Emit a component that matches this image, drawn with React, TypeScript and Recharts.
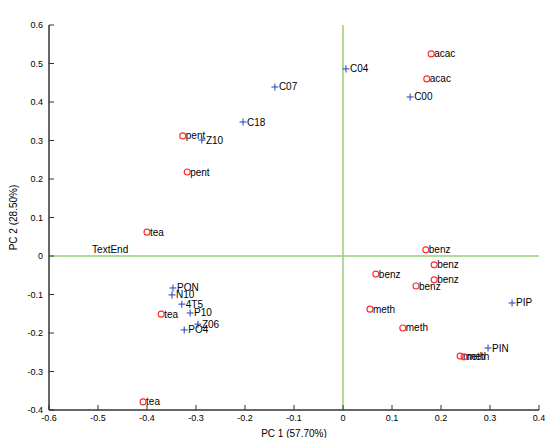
import React from 'react';
import { ScatterChart, Scatter, XAxis, YAxis, ReferenceLine, Label } from 'recharts';

// PCA biplot: sample scores (o) and variable loadings (+)
const scoreNames = ['acac', 'acac', 'pent', 'pent', 'tea', 'tea', 'tea', 'benz', 'benz', 'benz', 'benz', 'benz', 'meth', 'meth', 'meth', 'meth'];
const scoreX = [0.180, 0.171, -0.327, -0.318, -0.400, -0.371, -0.408, 0.169, 0.186, 0.186, 0.149, 0.067, 0.055, 0.122, 0.239, 0.247];
const scoreY = [0.525, 0.460, 0.312, 0.218, 0.062, -0.151, -0.379, 0.016, -0.023, -0.062, -0.078, -0.047, -0.138, -0.187, -0.260, -0.262];

const loadNames = ['C04', 'C00', 'C07', 'C18', 'Z10', 'PON', 'N10', '4T5', 'P10', 'Z06', 'PO4', 'PIP', 'PIN'];
const loadX = [0.006, 0.137, -0.139, -0.204, -0.288, -0.347, -0.349, -0.329, -0.312, -0.296, -0.324, 0.345, 0.296];
const loadY = [0.486, 0.413, 0.439, 0.348, 0.301, -0.083, -0.101, -0.125, -0.148, -0.177, -0.192, -0.122, -0.239];

const noteNames = ['TextEnd'];
const noteX = [-0.512];
const noteY = [0.016];

const xTicks = [-0.6, -0.5, -0.4, -0.3, -0.2, -0.1, 0, 0.1, 0.2, 0.3, 0.4];
const yTicks = [-0.4, -0.3, -0.2, -0.1, 0, 0.1, 0.2, 0.3, 0.4, 0.5, 0.6];

const zip = (names: string[], xs: number[], ys: number[]) =>
  names.map((name, i) => ({ name, x: xs[i], y: ys[i] }));

const scores = zip(scoreNames, scoreX, scoreY);
const loads = zip(loadNames, loadX, loadY);
const notes = zip(noteNames, noteX, noteY);

const FONT = '"Liberation Sans", Arial, sans-serif';
const AXIS = '#333333';
const GREEN = '#93d277';
const RED = '#ff2a2a';
const BLUE = '#2f4fc4';

const fmt = (v: number) => (v === 0 ? '0' : String(Number(v.toFixed(1))));

const ScoreMark = (props: any) => {
  const { cx, cy, payload } = props;
  return (
    <g>
      <circle cx={cx} cy={cy} r={3} fill="none" stroke={RED} strokeWidth={1.1} />
      <text x={cx + 3} y={cy} dy="0.35em" fontSize={10} fontFamily={FONT} fill="#000">
        {payload.name}
      </text>
    </g>
  );
};

const LoadMark = (props: any) => {
  const { cx, cy, payload } = props;
  return (
    <g>
      <line x1={cx - 3.5} x2={cx + 3.5} y1={cy} y2={cy} stroke={BLUE} strokeWidth={1.1} />
      <line x1={cx} x2={cx} y1={cy - 3.5} y2={cy + 3.5} stroke={BLUE} strokeWidth={1.1} />
      <text x={cx + 4} y={cy} dy="0.35em" fontSize={10} fontFamily={FONT} fill="#000">
        {payload.name}
      </text>
    </g>
  );
};

const NoteMark = (props: any) => {
  const { cx, cy, payload } = props;
  return (
    <text x={cx} y={cy} dy="0.35em" fontSize={10} fontFamily={FONT} fill="#000">
      {payload.name}
    </text>
  );
};

const YTitle = (props: any) => {
  const { viewBox } = props;
  const x = 13;
  const y = viewBox.y + viewBox.height / 2;
  return (
    <text x={x} y={y} transform={`rotate(-90 ${x} ${y})`} textAnchor="middle" dy="0.35em" fontSize={10} fontFamily={FONT} fill="#000">
      PC 2 (28.50%)
    </text>
  );
};

const tickStyle = { fontSize: 9, fontFamily: FONT, fill: '#000' };

export default function App() {
  return (
    <div style={{ position: 'absolute', left: 0, top: 0, width: 545, height: 438, background: '#fff' }}>
      <ScatterChart width={545} height={438} margin={{ top: 25, right: 6, bottom: 0, left: 19 }}>
        <XAxis
          xAxisId="b"
          type="number"
          dataKey="x"
          domain={[-0.6, 0.4]}
          ticks={xTicks}
          tickFormatter={fmt}
          allowDataOverflow
          height={28}
          tickSize={-5}
          tickMargin={10}
          axisLine={{ stroke: AXIS, strokeWidth: 1.5 }}
          tickLine={{ stroke: AXIS }}
          tick={tickStyle}
        >
          <Label value="PC 1 (57.70%)" position="insideBottom" offset={1} fontSize={10} fontFamily={FONT} fill="#000" />
        </XAxis>
        <XAxis
          xAxisId="t"
          orientation="top"
          type="number"
          dataKey="x"
          domain={[-0.6, 0.4]}
          ticks={xTicks}
          allowDataOverflow
          height={0}
          tickSize={-5}
          tick={false}
          axisLine={{ stroke: AXIS, strokeWidth: 1.5 }}
          tickLine={{ stroke: AXIS }}
        >
          <Label value="Biplot: (o) normalized scores, (+) loads" position="top" offset={8} fontSize={10} fontFamily={FONT} fill="#000" />
        </XAxis>
        <YAxis
          yAxisId="l"
          type="number"
          dataKey="y"
          domain={[-0.4, 0.6]}
          ticks={yTicks}
          tickFormatter={fmt}
          allowDataOverflow
          width={30}
          tickSize={-5}
          tickMargin={11}
          axisLine={{ stroke: AXIS, strokeWidth: 1.5 }}
          tickLine={{ stroke: AXIS }}
          tick={tickStyle}
        >
          <Label content={<YTitle />} />
        </YAxis>
        <YAxis
          yAxisId="r"
          orientation="right"
          type="number"
          dataKey="y"
          domain={[-0.4, 0.6]}
          ticks={yTicks}
          allowDataOverflow
          width={0}
          tickSize={-5}
          tick={false}
          axisLine={{ stroke: AXIS, strokeWidth: 1.5 }}
          tickLine={{ stroke: AXIS }}
        />
        <ReferenceLine xAxisId="b" yAxisId="l" x={0} stroke={GREEN} strokeWidth={1.5} />
        <ReferenceLine xAxisId="b" yAxisId="l" y={0} stroke={GREEN} strokeWidth={1.5} />
        <Scatter xAxisId="b" yAxisId="l" data={scores} shape={<ScoreMark />} isAnimationActive={false} />
        <Scatter xAxisId="b" yAxisId="l" data={loads} shape={<LoadMark />} isAnimationActive={false} />
        <Scatter xAxisId="b" yAxisId="l" data={notes} shape={<NoteMark />} isAnimationActive={false} />
      </ScatterChart>
    </div>
  );
}
